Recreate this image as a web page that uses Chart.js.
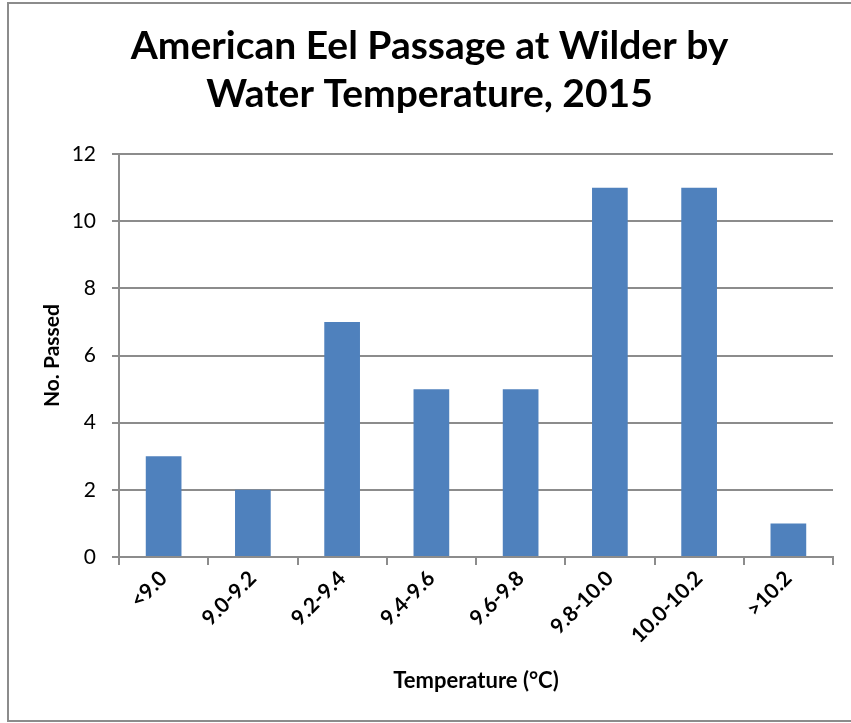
<!DOCTYPE html>
<html>
<head>
<meta charset="utf-8">
<script src="https://cdn.jsdelivr.net/npm/chart.js@4/dist/chart.umd.min.js"></script>
<style>
  html, body { margin: 0; padding: 0; background: #ffffff; }
  #wrap { width: 851px; height: 723px; position: relative; }
</style>
</head>
<body>
<div id="wrap"><canvas id="c" width="851" height="723"></canvas></div>
<script>
const titleLines = ["American Eel Passage at Wilder by", "Water Temperature, 2015"];
const categories = ["<9.0", "9.0-9.2", "9.2-9.4", "9.4-9.6", "9.6-9.8", "9.8-10.0", "10.0-10.2", ">10.2"];
const passed = [3, 2, 7, 5, 5, 11, 11, 1];
const yTicks = [0, 2, 4, 6, 8, 10, 12];
const xTitle = "Temperature (°C)";
const yTitle = "No. Passed";

const FONT = "Lato, 'Open Sans', 'Liberation Sans', sans-serif";
const GRID = "#8c8c8c";

const frame = {
  id: 'frame',
  afterDraw(chart) {
    const ctx = chart.ctx;
    ctx.save();
    ctx.strokeStyle = "#8c8c8c";
    ctx.lineWidth = 2;
    ctx.strokeRect(8, 3, 860, 718);
    ctx.restore();
  }
};

new Chart(document.getElementById('c'), {
  type: 'bar',
  data: {
    labels: categories,
    datasets: [{
      data: passed,
      backgroundColor: "#4f81bd",
      borderWidth: 0,
      barPercentage: 0.4,
      categoryPercentage: 1.0
    }]
  },
  plugins: [frame],
  options: {
    responsive: false,
    animation: false,
    events: [],
    layout: { padding: { left: 26, right: 18, top: 4, bottom: 20 } },
    plugins: {
      legend: { display: false },
      tooltip: { enabled: false },
      title: {
        display: true,
        text: titleLines,
        color: "#000000",
        font: { family: FONT, size: 39, weight: 'bold', lineHeight: 1.22 },
        padding: { top: 19, bottom: 36 }
      }
    },
    scales: {
      x: {
        type: 'category',
        offset: true,
        grid: {
          display: true,
          drawOnChartArea: false,
          drawTicks: true,
          tickLength: 8,
          color: GRID,
          lineWidth: 2,
          offset: true
        },
        border: { display: true, color: GRID, width: 2 },
        ticks: {
          color: "#000000",
          font: { family: FONT, size: 21, weight: 'bold' },
          maxRotation: 45,
          minRotation: 45,
          padding: 1,
          autoSkip: false
        },
        title: {
          display: true,
          text: xTitle,
          color: "#000000",
          font: { family: FONT, size: 22, weight: 'bold', lineHeight: 1.2 },
          padding: { top: 4, bottom: 9 }
        },
        afterFit(scale) { scale.height = 146; }
      },
      y: {
        min: 0,
        max: 12,
        afterBuildTicks(scale) { scale.ticks = yTicks.map(v => ({ value: v })); },
        grid: {
          color: GRID,
          lineWidth: 2,
          drawTicks: true,
          tickLength: 7
        },
        border: { display: true, color: GRID, width: 2 },
        ticks: {
          color: "#000000",
          font: { family: FONT, size: 21 },
          padding: 16
        },
        title: {
          display: true,
          text: yTitle,
          color: "#000000",
          font: { family: FONT, size: 21, weight: 'bold', lineHeight: 1.2 },
          padding: { top: 14, bottom: 4 }
        },
        afterFit(scale) { scale.width = 93; }
      }
    }
  }
});
</script>
</body>
</html>
